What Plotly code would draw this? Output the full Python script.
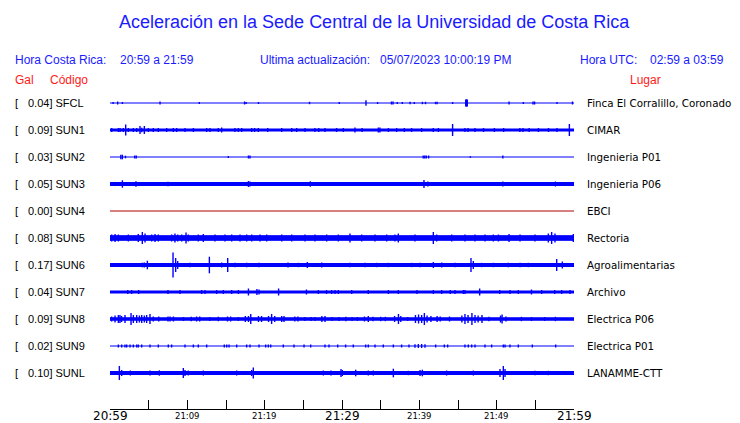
import plotly.graph_objects as go

# ---------------- data ----------------
codes = ["SFCL", "SUN1", "SUN2", "SUN3", "SUN4", "SUN5", "SUN6", "SUN7", "SUN8", "SUN9", "SUNL"]
gal = ["0.04", "0.09", "0.03", "0.05", "0.00", "0.08", "0.17", "0.04", "0.09", "0.02", "0.10"]
places = ["Finca El Corralillo, Coronado", "CIMAR", "Ingenieria P01", "Ingenieria P06", "EBCI",
          "Rectoria", "Agroalimentarias", "Archivo", "Electrica P06", "Electrica P01", "LANAMME-CTT"]

tick_minutes = [0, 5, 10, 15, 20, 25, 30, 35, 40, 45, 50, 55, 60]
tick_labels = {0: "20:59", 10: "21:09", 20: "21:19", 30: "21:29", 40: "21:39", 50: "21:49", 60: "21:59"}
major_labels = [0, 30, 60]

# background noise half-amplitude of each record (display units)
base_amp = [0, 1, 0, 1.5, 0, 2.3, 1.5, 1, 1.2, 0, 1.5]

# burst times (minutes after 20:59) and half-amplitudes (display units)
sfcl_t = [0.4, 0.99, 1.6, 6.47, 11.55, 17.4, 17.6, 19.2, 25.8, 29.65, 33.1, 34.6, 36.4, 36.6, 37.15, 37.8,
          38.8, 39.35, 40.4, 40.8, 42.1, 42.3, 44.3, 46.0, 46.1, 46.2, 51.6, 53.45, 54.7, 54.9, 57.8, 59.8]
sfcl_a = [1, 1.5, 1, 1.5, 1, 1.5, 1, 1, 1.2, 1, 2.7, 1, 1.5, 1.5, 1, 1, 1.2, 1, 1.2, 1.2, 1.2, 1.2, 1,
          3.5, 3.7, 3.5, 1.5, 1, 1.5, 1.5, 1, 1.5]

sun1_t = [0.22, 1.08, 1.3, 1.72, 2.03, 2.37, 3.02, 3.45, 3.88, 4.1, 4.44, 4.96, 5.6, 6.25, 7.33, 8.19, 8.62,
          9.7, 10.78, 12.5, 12.93, 14.01, 14.44, 16.16, 16.6, 17.03, 18.32, 18.7, 19.18, 20.39, 22.2, 23.5,
          24.14, 25.22, 26.5, 27.0, 27.8, 29.3, 30.17, 31.68, 32.6, 34.7, 34.9, 36.0, 37.07, 38.06, 39.0,
          40.3, 41.8, 42.46, 44.3, 45.9, 46.3, 47.2, 48.3, 49.7, 50.9, 53.0, 53.4, 54.2, 55.4, 56.7, 57.8, 59.4]
sun1_a = [2, 2, 2, 2, 5.5, 2, 2, 2, 4, 2.2, 4, 2, 2, 2, 2, 2, 2, 2, 2, 2, 2, 2, 2.5, 2, 2, 2, 2, 2, 2, 2,
          2, 2, 2, 2, 2, 2, 2, 2, 2, 2.5, 2, 2.5, 2.5, 2, 2, 2, 2, 2, 2, 2, 6, 2, 2, 2, 2, 2, 2, 2, 2, 2,
          2, 2, 2, 6]

sun2_t = [1.4, 1.6, 2.0, 3.2, 3.4, 15.3, 17.9, 18.1, 40.5, 40.7, 40.9, 41.2, 46.6, 50.8]
sun2_a = [2.3, 2.3, 1.3, 1.5, 1.5, 1, 1.5, 1.5, 1.5, 1.5, 1.5, 1.5, 0.8, 1.5]

sun3_t = [1.6, 3.36, 7.5, 17.9, 18.1, 19.0, 25.9, 38.7, 40.6, 41.1, 49.5, 50.8, 55.4, 57.6, 58.6]
sun3_a = [3.7, 2.7, 2.3, 3, 2.5, 2, 2.7, 2, 4, 2.5, 2, 2.5, 2, 2.5, 2]

sun4_t = []
sun4_a = []

sun5_t = [0.22, 0.65, 1.08, 2.37, 3.66, 4.18, 4.53, 5.39, 5.82, 6.25, 7.97, 8.4, 8.75, 9.27, 9.83, 10.13,
          11.42, 12.07, 13.58, 14.87, 15.73, 16.81, 17.67, 18.32, 19.4, 20.26, 22.2, 23.49, 25.22, 26.51,
          28.02, 29.52, 31.03, 32.54, 34.27, 35.78, 36.85, 37.28, 39.44, 41.81, 42.24, 44.18, 45.9, 47.2,
          48.49, 49.57, 50.22, 51.6, 53.02, 54.96, 56.68, 57.11, 57.54, 59.91]
sun5_a = [3.5, 4, 3.5, 3.5, 4, 6, 4.5, 3.5, 4, 3.5, 3.5, 4.5, 3.5, 3.5, 5.5, 3.5, 3.5, 4, 3.5, 3.5, 3.5,
          3.5, 3.5, 3.5, 3.5, 3.5, 3.5, 3.5, 3.5, 3.5, 3.5, 3.5, 4.5, 3.5, 3.5, 3.5, 3.5, 4.5, 3.5, 6, 3.5,
          3.5, 3.5, 3.5, 3.5, 3.5, 3.5, 4, 3.5, 3.5, 4.5, 6, 4.5, 4]

sun6_t = [2.5, 4.18, 4.44, 4.83, 5.6, 8.15, 8.49, 8.75, 10.35, 12.85, 14.44, 15.22, 16.16, 17.67, 19.27,
          23.02, 24.35, 25.52, 27.37, 31.03, 32.97, 34.48, 36.0, 39.0, 40.09, 41.81, 42.89, 44.61, 46.68,
          46.98, 48.06, 49.57, 51.51, 53.02, 54.1, 57.76, 58.49]
sun6_a = [2, 2.3, 2.5, 4.3, 2, 12.5, 7, 4, 2.3, 8.3, 2.5, 7, 2.3, 2.3, 2.3, 2.5, 2.2, 3, 2.5, 2.2, 2.2,
          2.2, 2.2, 2.2, 2.2, 3, 2.5, 2.2, 7, 4, 2.2, 2.2, 2.3, 2.2, 2.2, 6, 3.5]

sun7_t = [2.3, 2.8, 3.7, 7.5, 9.05, 11.85, 12.28, 13.79, 14.65, 15.73, 16.6, 17.9, 19.0, 19.27, 21.8, 25.4,
          26.94, 28.0, 28.66, 29.1, 29.52, 31.25, 33.4, 36.0, 37.28, 39.7, 41.81, 42.89, 44.0, 44.61,
          45.69, 45.9, 47.8, 50.4, 51.72, 52.8, 54.5, 55.82, 57.5, 58.41, 59.48]
sun7_a = [2, 2, 2, 2, 2, 2, 2, 2, 2, 2, 2, 3.5, 3, 2.5, 3.5, 2.5, 2, 2, 2, 2, 2, 2, 2, 2, 2, 2, 2, 2, 2,
          2, 2, 2, 3.5, 2, 2, 2, 2.5, 2, 2, 2, 2]

sun8_t = [0.22, 0.65, 1.08, 1.29, 1.5, 1.94, 2.72, 3.02, 3.45, 3.8, 4.1, 4.44, 4.74, 5.17, 5.6, 6.3, 7.5,
          7.76, 8.2, 9.5, 10.5, 11.2, 11.6, 12.9, 14.0, 15.2, 15.6, 16.6, 17.5, 17.9, 18.2, 19.2, 19.6,
          20.5, 20.9, 21.3, 22.2, 22.5, 23.9, 24.3, 25.2, 26.0, 26.5, 27.4, 27.8, 28.7, 29.6, 30.5, 31.3,
          32.0, 32.9, 33.4, 34.0, 35.0, 35.6, 36.8, 37.3, 37.6, 38.5, 39.5, 39.9, 40.3, 40.65, 41.0, 41.5,
          42.3, 42.7, 43.9, 45.5, 45.9, 46.3, 46.8, 47.2, 47.6, 48.1, 49.0, 50.5, 50.7, 51.2, 53.2, 54.5,
          56.2, 57.6]
sun8_a = [2.5, 3.5, 4, 4, 3, 4, 6, 4, 4, 3.5, 4, 3.5, 4, 5, 2.5, 2.5, 2.5, 2.5, 2.5, 2, 2.2, 2.5, 2.5, 2,
          2.2, 2.5, 2.5, 2, 3, 3, 5, 3, 3, 3, 5, 3, 3, 3, 2.5, 2.5, 2, 2, 2, 3, 3, 2, 2, 2.2, 2, 2, 2.5, 3,
          2.2, 2.2, 2.2, 3, 5, 3, 2, 4, 4.5, 4, 6, 3.5, 3, 3, 2.5, 2.5, 3.5, 5, 4, 6, 4, 3.5, 4, 2.2, 3.5,
          4.5, 2.5, 2.2, 2, 2, 2.2]

sun9_t = [1.08, 1.51, 1.94, 2.16, 2.59, 3.02, 3.45, 3.66, 4.1, 5.17, 6.25, 7.54, 7.97, 9.7, 10.78, 11.42,
          12.5, 14.78, 15.09, 15.39, 16.38, 17.67, 18.1, 19.27, 20.13, 20.47, 20.78, 22.41, 23.79, 25.09,
          25.95, 27.8, 28.32, 29.44, 30.47, 31.46, 33.06, 33.4, 34.27, 35.34, 36.64, 37.71, 38.66, 39.44,
          39.87, 40.3, 40.73, 42.11, 43.23, 43.66, 45.9, 46.33, 46.77, 47.2, 48.49, 49.35, 50.86, 51.08,
          51.72, 52.8, 54.61, 57.63]
sun9_a = [1.5, 1.5, 1.5, 1.5, 1.5, 1.5, 1.5, 1.5, 1.5, 1.5, 1.5, 1.5, 1.5, 1.5, 1.5, 1.5, 1.5, 1.5, 1.5,
          1.5, 1.5, 1.5, 1.5, 1.5, 1.5, 1.5, 1.5, 1.5, 1.5, 1.5, 1.5, 1.5, 1.5, 1.5, 1.5, 1.5, 1.5, 1.5,
          1.5, 1.5, 1.5, 1.5, 1.5, 1.8, 2, 2, 1.8, 1.5, 1.5, 1.5, 1.5, 1.5, 1.5, 1.5, 1.5, 1.5, 1.5, 1.5,
          1.5, 1.5, 1.5, 1.5]

sunl_t = [1.21, 1.51, 2.63, 5.17, 6.38, 9.48, 9.7, 10.13, 12.07, 16.38, 18.32, 18.53, 27.59, 28.58, 29.87,
          30.04, 31.77, 33.4, 34.05, 36.64, 38.58, 40.09, 40.39, 43.53, 46.98, 50.43, 50.86, 51.08, 54.96,
          56.68]
sunl_a = [7, 3, 2.5, 2.5, 2.7, 5, 3, 2.5, 2.5, 2.5, 3, 5.5, 2.5, 2.5, 4, 3, 3.3, 2.5, 2.5, 4.3, 2.2, 3, 3.3,
          2.5, 2.5, 4, 7, 4, 2.2, 2.2]

burst_t = [sfcl_t, sun1_t, sun2_t, sun3_t, sun4_t, sun5_t, sun6_t, sun7_t, sun8_t, sun9_t, sunl_t]
burst_a = [sfcl_a, sun1_a, sun2_a, sun3_a, sun4_a, sun5_a, sun6_a, sun7_a, sun8_a, sun9_a, sunl_a]

# ---------------- layout constants ----------------
W, H = 740, 423
PL, PR, PT, PB = 110, 574, 90, 409        # plot area in pixels
ROW0, ROWSTEP = 103, 27                   # first row centre / row spacing (px)
BLUE = "#1a1aff"
RED = "#ff1a1a"
TRACE_BLUE = "#0000ff"
SUN4_RED = "#b00000"


def px_x(p):
    return (p - PL) / (PR - PL)


def px_y(p):
    return (PB - p) / (PB - PT)


fig = go.Figure()

for i, code in enumerate(codes):
    yc = -ROWSTEP * i
    color = SUN4_RED if code == "SUN4" else TRACE_BLUE
    b = base_amp[i]
    if b > 0:
        fig.add_trace(go.Scatter(x=[0, 60, 60, 0, 0], y=[yc - b, yc - b, yc + b, yc + b, yc - b],
                                 mode="lines", fill="toself", fillcolor=color,
                                 line=dict(color=color, width=1), hoverinfo="skip", showlegend=False))
    else:
        fig.add_trace(go.Scatter(x=[0, 60], y=[yc, yc], mode="lines",
                                 line=dict(color=color, width=1), hoverinfo="skip", showlegend=False))
    xs, ys = [], []
    for t, a in zip(burst_t[i], burst_a[i]):
        xs += [t, t, None]
        ys += [yc - a, yc + a, None]
    if xs:
        fig.add_trace(go.Scatter(x=xs, y=ys, mode="lines", line=dict(color=color, width=1.4),
                                 hoverinfo="skip", showlegend=False))

ann = []


def text(x, y, s, size, color, family, anchor="left"):
    ann.append(dict(x=px_x(x), y=px_y(y), xref="paper", yref="paper", text=s, showarrow=False,
                    xanchor=anchor, yanchor="middle", font=dict(size=size, color=color, family=family),
                    borderpad=0))


SANS = "Liberation Sans, Arial, sans-serif"
DJ = "DejaVu Sans, sans-serif"

text(374, 22, "Aceleración en la Sede Central de la Universidad de Costa Rica", 18, BLUE, SANS, "center")
text(14, 60, "Hora Costa Rica:", 12, BLUE, SANS)
text(119, 60, "20:59 a 21:59", 12, BLUE, SANS)
text(259, 60, "Ultima actualización:", 12, BLUE, SANS)
text(379, 60, "05/07/2023 10:00:19 PM", 12, BLUE, SANS)
text(579, 60, "Hora UTC:", 12, BLUE, SANS)
text(649, 60, "02:59 a 03:59", 12, BLUE, SANS)
text(14, 80, "Gal", 12, RED, SANS)
text(49, 80, "Código", 12, RED, SANS)
text(629, 80, "Lugar", 12, RED, SANS)

for i, code in enumerate(codes):
    yp = ROW0 + ROWSTEP * i
    text(14, yp, "[", 11, "black", SANS)
    text(26.5, yp, gal[i] + "] " + code, 11, "black", SANS)
    text(586, yp, places[i], 10.3, "black", DJ)

for m, lab in tick_labels.items():
    big = m in major_labels
    ann.append(dict(x=m, y=px_y(416), xref="x", yref="paper", text=lab, showarrow=False,
                    xanchor="center", yanchor="middle", borderpad=0,
                    font=dict(size=12 if big else 8.5, color="black",
                              family="DejaVu Sans, sans-serif")))

fig.update_layout(
    width=W, height=H,
    margin=dict(l=PL, r=W - PR, t=PT, b=H - PB, pad=0),
    paper_bgcolor="white", plot_bgcolor="white",
    showlegend=False,
    annotations=ann,
    xaxis=dict(range=[0, 60], showgrid=False, zeroline=False, showline=True, linecolor="black",
               linewidth=1, ticks="inside", ticklen=9, tickcolor="black", tickwidth=1,
               tickvals=tick_minutes, showticklabels=False, fixedrange=True),
    yaxis=dict(range=[-(PB - ROW0), ROW0 - PT], showgrid=False, zeroline=False, showline=False,
               showticklabels=False, ticks="", fixedrange=True),
)

fig.write_html("out.html", config={"displayModeBar": False},
               post_script="document.body.style.margin='0';document.body.style.overflow='hidden';")
